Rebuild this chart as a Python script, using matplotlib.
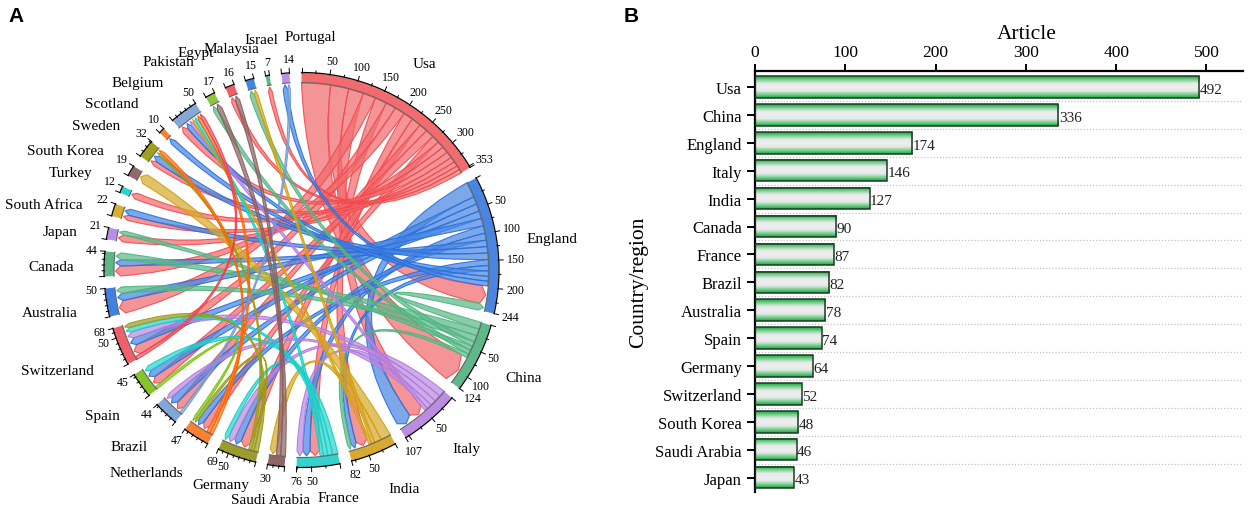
import colorsys
import numpy as np
import matplotlib
matplotlib.use('Agg')
import matplotlib.pyplot as plt
from matplotlib.patches import PathPatch, Polygon
from matplotlib.path import Path
from matplotlib.colors import LinearSegmentedColormap, to_rgb

plt.rcParams['font.family'] = ['Liberation Serif', 'DejaVu Serif']

# chord data
countries = ['Usa', 'England', 'China', 'Italy', 'India', 'France', 'Saudi Arabia', 'Germany',
             'Netherlands', 'Brazil', 'Spain', 'Switzerland', 'Australia', 'Canada', 'Japan',
             'South Africa', 'Turkey', 'South Korea', 'Sweden', 'Scotland', 'Belgium', 'Pakistan',
             'Egypt', 'Malaysia', 'Israel', 'Portugal']
totals = [353, 244, 124, 107, 82, 76, 30, 69, 47, 44, 45, 68, 50, 44, 21, 22, 12, 19, 32, 10, 50, 17, 16, 15, 7, 14]
colors = ['#f26b6e', '#4a86e0', '#5fb78a', '#bb8de0', '#d6aa30', '#33d2cc', '#8d6666', '#9c9c2c',
          '#fb8032', '#82a6d6', '#86c42e', '#f0606a', '#3f80e2', '#5db885', '#b98fe5', '#d8ae30',
          '#2fd0d0', '#906a6a', '#a0a020', '#ff7f2a', '#85a8d8', '#8cc63f', '#f25d65', '#4085e0',
          '#5bb887', '#bb90e5']

usa_to = ['China', 'England', 'Italy', 'Australia', 'India', 'Switzerland', 'Canada', 'France', 'Germany', 'Brazil',
          'Spain', 'Netherlands', 'Japan', 'Turkey', 'Belgium', 'South Africa', 'Sweden', 'Egypt', 'Israel']
usa_val = [54, 34, 28, 24, 22, 19, 19, 18, 18, 16, 16, 14, 13, 12, 12, 10, 9, 8, 7]
england_to = ['Italy', 'Spain', 'Brazil', 'Switzerland', 'Australia', 'France', 'Germany', 'Canada', 'South Africa',
              'Sweden', 'Netherlands', 'India', 'Scotland', 'Belgium', 'Portugal']
england_val = [29, 14, 14, 14, 14, 14, 13, 12, 12, 12, 11, 10, 10, 9, 9]
china_to = ['England', 'Canada', 'Australia', 'Malaysia', 'Japan', 'Pakistan', 'India']
china_val = [13, 13, 12, 9, 8, 8, 7]
italy_to = ['Germany', 'Switzerland', 'France', 'Brazil', 'Belgium']
italy_val = [12, 12, 11, 9, 6]
india_to = ['South Korea', 'Saudi Arabia', 'Malaysia', 'Belgium']
india_val = [19, 13, 6, 5]
france_to = ['Spain', 'Switzerland', 'Germany', 'Belgium']
france_val = [10, 9, 8, 6]
germany_to = ['Switzerland', 'Netherlands', 'Sweden']
germany_val = [8, 5, 5]
netherlands_to = ['Sweden', 'Belgium']
netherlands_val = [6, 6]
brazil_to = ['Portugal']
brazil_val = [5]
spain_to = ['Netherlands']
spain_val = [5]
switzerland_to = ['Belgium']
switzerland_val = [6]
saudi_to = ['Pakistan', 'Egypt']
saudi_val = [9, 8]

flows = [('Usa', usa_to, usa_val), ('England', england_to, england_val), ('China', china_to, china_val),
         ('Italy', italy_to, italy_val), ('India', india_to, india_val), ('France', france_to, france_val),
         ('Germany', germany_to, germany_val), ('Netherlands', netherlands_to, netherlands_val),
         ('Brazil', brazil_to, brazil_val), ('Spain', spain_to, spain_val),
         ('Switzerland', switzerland_to, switzerland_val), ('Saudi Arabia', saudi_to, saudi_val)]

# bar data
bar_names = ['Usa', 'China', 'England', 'Italy', 'India', 'Canada', 'France', 'Brazil', 'Australia', 'Spain',
             'Germany', 'Switzerland', 'South Korea', 'Saudi Arabia', 'Japan']
bar_values = [492, 336, 174, 146, 127, 90, 87, 82, 78, 74, 64, 52, 48, 46, 43]

W, H = 1248, 510
fig = plt.figure(figsize=(W / 100, H / 100), dpi=100)
ax = fig.add_axes([0, 0, 1, 1])
ax.set_xlim(0, W)
ax.set_ylim(H, 0)
ax.axis('off')

cx, cy = 301.5, 271
r_out = 197
r_in = 187.5
r_src = 187
r_tip = 186
r_neck = 181
gap = 3.5
unit = (360 - gap * len(totals)) / sum(totals)


def pt(ang, r):
    a = np.radians(ang)
    return (cx + r * np.sin(a), cy - r * np.cos(a))


# start angle of each sector, clockwise from the top
starts = {}
a = 0
for name, t in zip(countries, totals):
    starts[name] = a
    a += t * unit + gap

# outgoing ribbons come first in a sector, the incoming tips after them
cursor = dict(starts)
src_span = {}
for src, to, val in flows:
    for d, v in zip(to, val):
        src_span[(src, d)] = (cursor[src], cursor[src] + v * unit)
        cursor[src] += v * unit
dst_span = {}
for src, to, val in flows:
    for d, v in zip(to, val):
        dst_span[(src, d)] = (cursor[d], cursor[d] + v * unit)
        cursor[d] += v * unit


def ribbon(s0, s1, t0, t1, color, z):
    m = np.radians((s0 + s1 + t0 + t1) / 4)
    if abs((s0 + s1) / 2 - (t0 + t1) / 2) > 180:
        m += np.pi
    k = 8
    c = (cx + k * np.sin(m), cy - k * np.cos(m))
    verts = []
    codes = []
    arc = np.linspace(s0, s1, 12)
    for i, an in enumerate(arc):
        verts.append(pt(an, r_src))
        codes.append(Path.MOVETO if i == 0 else Path.LINETO)
    verts += [c, pt(t0, r_neck)]
    codes += [Path.CURVE3, Path.CURVE3]
    verts += [pt((t0 + t1) / 2, r_tip), pt(t1, r_neck)]
    codes += [Path.LINETO, Path.LINETO]
    verts += [c, pt(s0, r_src), pt(s0, r_src)]
    codes += [Path.CURVE3, Path.CURVE3, Path.CLOSEPOLY]
    rgb = to_rgb(color)
    # edge keeps the hue but is more saturated than the fill
    hh, ss, vv = colorsys.rgb_to_hsv(*rgb)
    edge = colorsys.hsv_to_rgb(hh, min(1, ss * 1.25), vv) + (0.9,)
    face = rgb + (0.72,)
    ax.add_patch(PathPatch(Path(verts, codes), facecolor=face, edgecolor=edge, lw=0.8, zorder=z))


col = dict(zip(countries, colors))
z = 2.0
for src, to, val in flows:
    for d, v in zip(to, val):
        s0, s1 = src_span[(src, d)]
        t0, t1 = dst_span[(src, d)]
        ribbon(s0, s1, t0, t1, col[src], z)
        z += 0.001

# ring, axis arc, ticks, tick labels
for name, t in zip(countries, totals):
    a0 = starts[name]
    a1 = a0 + t * unit
    th = np.linspace(a0, a1, 60)
    outer = [pt(x, r_out) for x in th]
    inner = [pt(x, r_in) for x in th[::-1]]
    ax.add_patch(Polygon(outer + inner, closed=True, facecolor=col[name], edgecolor='none', zorder=5))
    ax.plot(*zip(*[pt(x, r_in) for x in th]), color='#666666', lw=0.8, zorder=6)
    ax.plot(*zip(*[pt(x, r_out + 0.5) for x in th]), color='black', lw=0.9, zorder=6)

    if t >= 30:
        minor = 25 if t >= 70 else 10
        ticks = list(range(0, t, minor)) + [t]
    else:
        ticks = [0, t]
    for v in ticks:
        an = a0 + v * unit
        big = v % 50 == 0 or v == t
        ax.plot(*zip(pt(an, r_out), pt(an, r_out + (5 if big else 2.5))), color='black', lw=0.7, zorder=6)
    labels = [v for v in range(50, t, 50) if t - v >= 10] + [t]
    for v in labels:
        an = a0 + v * unit
        txt = str(v)
        rr = r_out + 14 + (len(txt) - 2) * 3.5 * abs(np.sin(np.radians(an)))
        x, y = pt(an, rr)
        ax.text(x, y, txt, fontsize=8.6, ha='center', va='center', color='black', zorder=7)

# country labels
label_x = [424, 552, 524, 466, 404, 338, 271, 221, 146, 129, 102, 57, 50, 51, 60, 44, 71, 65, 96, 112, 138, 168, 196, 231, 261, 310]
label_y = [65, 240, 379, 450, 490, 499, 501, 486, 474, 448, 417, 372, 314, 268, 233, 206, 174, 152, 126, 105, 83, 63, 54, 49, 40, 38]
for name, x, y in zip(countries, label_x, label_y):
    ax.text(x, y, name, fontsize=11, ha='center', va='center', color='black', zorder=7)

ax.text(8, 17, 'A', fontsize=15, fontweight='bold', family='Liberation Sans', ha='left', va='center')
ax.text(624, 16, 'B', fontsize=15, fontweight='bold', family='Liberation Sans', ha='left', va='center')

# bar chart
left, right, top, bottom = 755, 1243, 72, 493
bx = fig.add_axes([left / W, 1 - bottom / H, (right - left) / W, (bottom - top) / H])
bx.patch.set_alpha(0)
x_max = (right - left) / 0.903
y_step = 27.9
y0 = 88
y_lim = ((bottom - y0) / y_step, (top - y0) / y_step)

grad = LinearSegmentedColormap.from_list('g', ['#12a83a', '#7fd094', '#e6ebe7', '#eeeeee', '#e6ebe7', '#7fd094', '#12a83a'])
g = np.linspace(0, 1, 64).reshape(-1, 1)
pos = np.arange(len(bar_values))
h = 0.77
for i, v in zip(pos, bar_values):
    bx.imshow(g, extent=(0, v, i + h / 2, i - h / 2), aspect='auto', cmap=grad, zorder=2)
    bx.text(v + 0.5, i + 0.08, str(v), fontsize=11, ha='left', va='center', color='#222222', zorder=4)
bx.barh(pos, bar_values, height=h, facecolor='none', edgecolor='#1c3a24', linewidth=1.1, zorder=3)
bx.set_xlim(0, x_max)
bx.set_ylim(*y_lim)
for i in pos[:-1]:
    bx.axhline(i + 0.5, color='#c4c4c4', lw=0.9, ls=(0, (1, 1.5)), zorder=1)

bx.xaxis.tick_top()
bx.xaxis.set_label_position('top')
bx.set_xticks([0, 100, 200, 300, 400, 500])
bx.set_yticks(pos)
bx.set_yticklabels(bar_names)
bx.tick_params(axis='x', labelsize=12.5, length=5, width=1.4, pad=3)
bx.tick_params(axis='y', labelsize=12, length=5.5, width=1.4, pad=4)
for s in ['right', 'bottom']:
    bx.spines[s].set_visible(False)
for s in ['top', 'left']:
    bx.spines[s].set_linewidth(1.6)
bx.set_xlabel('Article', fontsize=15.5, labelpad=4, x=0.557)
bx.set_ylabel('Country/region', fontsize=15.5, labelpad=5)

fig.savefig('out.png', dpi=100)
